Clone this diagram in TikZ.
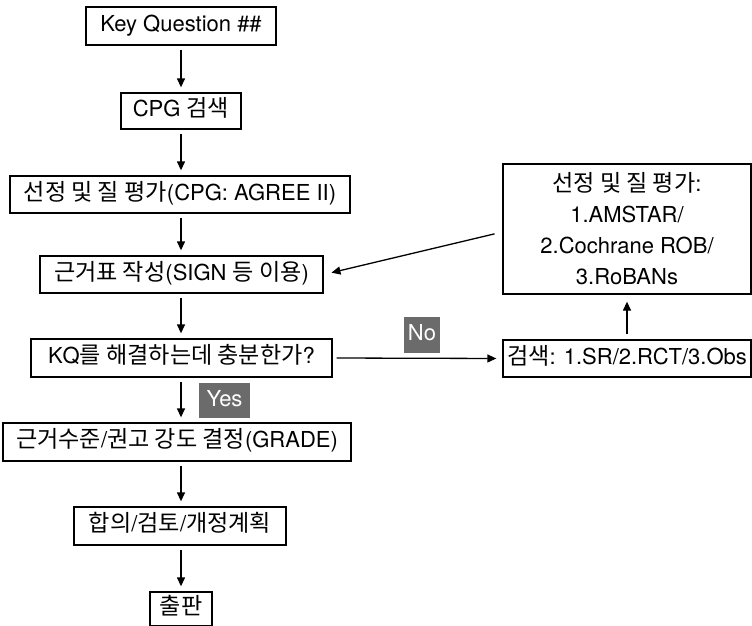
\documentclass[tikz,border=0pt]{standalone}
\usepackage{fontspec}
\setmainfont{TeX Gyre Heros}
\newfontfamily\kr{Noto Sans CJK KR}[Scale=1.05]
\usetikzlibrary{arrows.meta}
\definecolor{tagGray}{HTML}{6B6B6B}
\tikzset{
  box/.style={draw, line width=1.3pt, inner sep=0pt, align=center,
    font=\fontsize{22}{31}\selectfont, text height=16pt, text depth=5pt},
  flow/.style={line width=1.3pt, -{Triangle[length=9pt,width=8pt]},
    shorten <=4pt, shorten >=5pt},
  tag/.style={fill=tagGray, text=white, inner sep=0pt,
    font=\fontsize{22}{26}\selectfont, text height=16pt, text depth=5pt}
}
\begin{document}
\begin{tikzpicture}[x=1pt,y=-1pt]
\useasboundingbox (0,0) rectangle (752,626);
% left column
\node[box, minimum width=190pt, minimum height=38pt] (kq) at (181,26) {Key Question \#\#};
\node[box, minimum width=120pt, minimum height=36pt] (cpg) at (181,111) {CPG {\kr 검색}};
\node[box, minimum width=340pt, minimum height=37pt] (sel) at (180,194.5) {{\kr 선정 및 질 평가}(CPG: AGREE II)};
\node[box, minimum width=283pt, minimum height=37pt] (tbl) at (181.5,274.5) {{\kr 근거표 작성}(SIGN {\kr 등 이용})};
\node[box, minimum width=301pt, minimum height=38pt] (q) at (181.5,358) {KQ{\kr 를 해결하는데 충분한가}?};
\node[box, minimum width=348pt, minimum height=38pt] (grade) at (177,442) {{\kr 근거수준}/{\kr 권고 강도 결정}(GRADE)};
\node[box, minimum width=212pt, minimum height=38pt] (cons) at (180,526) {{\kr 합의}/{\kr 검토}/{\kr 개정계획}};
\node[box, minimum width=62pt, minimum height=34pt] (pub) at (181,609) {{\kr 출판}};
% right column
\node[box, minimum width=248pt, minimum height=130pt, text height=, text depth=] (rev) at (627,229)
  {{\kr 선정 및 질 평가}:\\1.AMSTAR/\\2.Cochrane ROB/\\3.RoBANs};
\node[box, minimum width=248pt, minimum height=37pt] (srch) at (627,358.5) {{\kr 검색}: 1.SR/2.RCT/3.Obs};
% tags
\node[tag, minimum width=51pt, minimum height=35pt] (yes) at (224.5,400.5) {Yes};
\node[tag, minimum width=36pt, minimum height=36pt] (no) at (422,335) {No};
% connectors
\draw[flow] (kq.south -| cpg) -- (cpg.north);
\draw[flow] (cpg.south) -- (sel.north -| cpg);
\draw[flow] (sel.south -| cpg) -- (tbl.north -| cpg);
\draw[flow] (tbl.south -| cpg) -- (q.north -| cpg);
\draw[flow] (q.south -| cpg) -- (grade.north -| cpg);
\draw[flow] (grade.south -| cpg) -- (cons.north -| cpg);
\draw[flow] (cons.south -| cpg) -- (pub.north -| cpg);
\draw[flow, shorten >=6pt] (q.east) -- (srch.west);
\draw[flow, shorten <=5pt, shorten >=7pt] (srch.north) -- (rev.south);
\draw[flow, shorten <=8pt, shorten >=8pt] ([yshift=-3pt]rev.west) -- (tbl.east);
\end{tikzpicture}
\end{document}
